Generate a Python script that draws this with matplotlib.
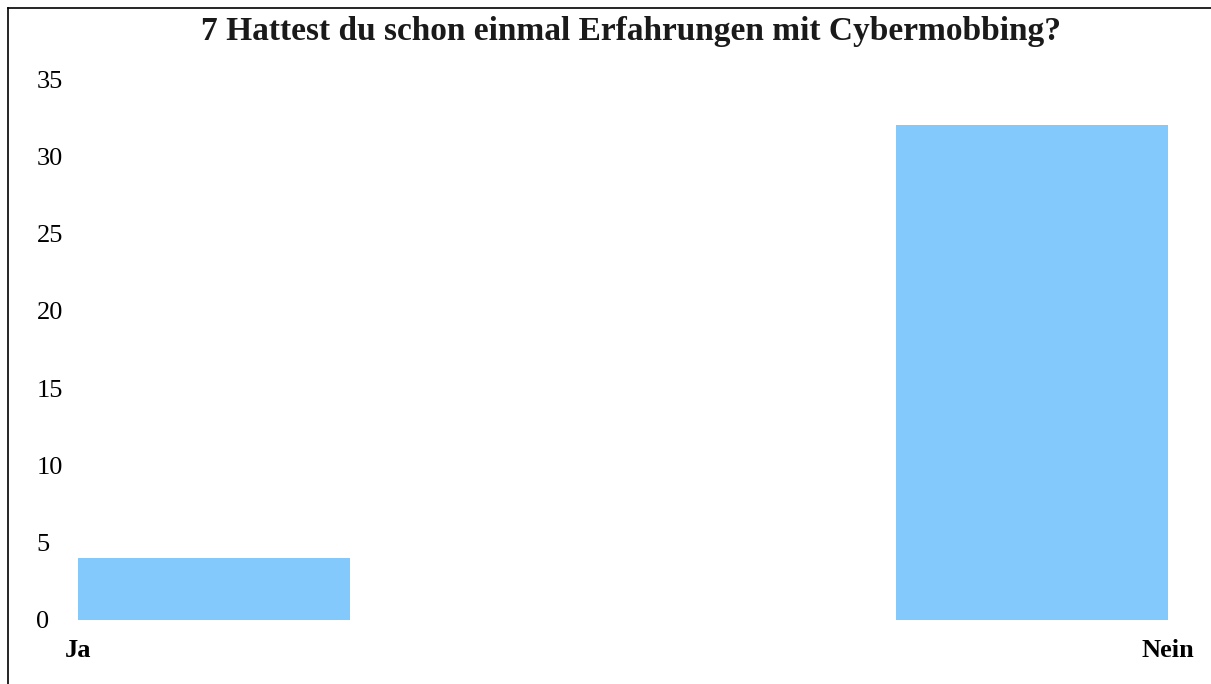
import matplotlib
matplotlib.use("Agg")
import matplotlib.pyplot as plt
from matplotlib.lines import Line2D

# chart data
categories = ["Ja", "Nein"]
counts = [4, 32]
y_ticks = [0, 5, 10, 15, 20, 25, 30, 35]
title = "7 Hattest du schon einmal Erfahrungen mit Cybermobbing?"

W, H = 1211, 684
bar_color = "#84C9FB"
serif = ["Liberation Serif", "DejaVu Serif"]

fig = plt.figure(figsize=(W / 100, H / 100), dpi=100)
fig.patch.set_facecolor("white")

# axes placed in pixel terms
ax_left, ax_right = 60, 1190
ax_bottom, ax_top = 620, 79
ax = fig.add_axes([ax_left / W, (H - ax_bottom) / H,
                   (ax_right - ax_left) / W, (ax_bottom - ax_top) / H])

width = 0.3325
xpos = list(range(len(categories)))
ax.bar(xpos, counts, width=width, color=bar_color, edgecolor="none")

ax.set_xlim((ax_left - 214) / 818, (ax_right - 214) / 818)
ax.set_ylim(0, 35)

# category labels sit at the outer edges of the bars
ax.set_xticks([xpos[0] - width / 2, xpos[-1] + width / 2])
ax.set_xticklabels(categories, fontfamily=serif, fontsize=19, fontweight="bold")
ax.tick_params(axis="x", length=0, pad=14)

ax.set_yticks(y_ticks)
ax.set_yticklabels([str(v) for v in y_ticks], fontfamily=serif, fontsize=19)
ax.tick_params(axis="y", length=0, pad=17)
for lbl in ax.get_yticklabels():
    lbl.set_horizontalalignment("left")

for s in ax.spines.values():
    s.set_visible(False)

fig.text(631 / W, (H - 40) / H, title, ha="center", va="baseline",
         fontfamily=serif, fontsize=24, fontweight="bold", color="#1a1a1a")

# frame lines (left and top)
fig.add_artist(Line2D([8 / W, 8 / W], [0, (H - 8) / H], transform=fig.transFigure,
                      color="black", lw=1.2))
fig.add_artist(Line2D([8 / W, 1], [(H - 8) / H, (H - 8) / H], transform=fig.transFigure,
                      color="black", lw=1.2))

fig.savefig("out.png", dpi=100)
